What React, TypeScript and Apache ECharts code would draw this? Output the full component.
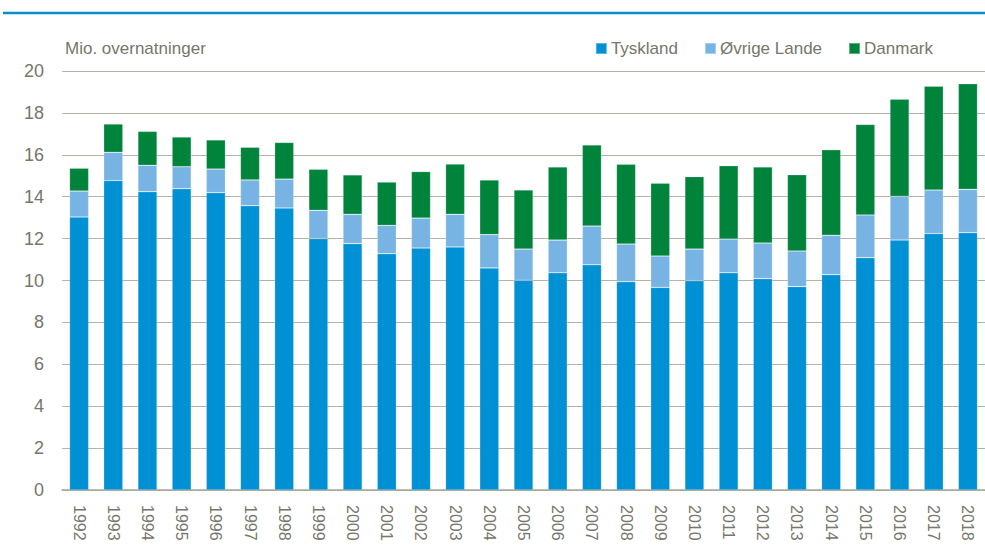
import React, { useEffect, useRef } from "react";
import * as echarts from "echarts";

const years = [
  "1992", "1993", "1994", "1995", "1996", "1997", "1998", "1999", "2000",
  "2001", "2002", "2003", "2004", "2005", "2006", "2007", "2008", "2009",
  "2010", "2011", "2012", "2013", "2014", "2015", "2016", "2017", "2018",
];

const tyskland = [
  13.03, 14.77, 14.24, 14.38, 14.19, 13.57, 13.46, 12.0, 11.76, 11.28, 11.55,
  11.6, 10.6, 10.01, 10.37, 10.75, 9.94, 9.67, 9.99, 10.37, 10.09, 9.71, 10.28,
  11.09, 11.93, 12.24, 12.28,
];

const ovrigeLande = [
  1.24, 1.35, 1.26, 1.05, 1.13, 1.23, 1.38, 1.35, 1.4, 1.35, 1.43, 1.56, 1.59,
  1.49, 1.56, 1.85, 1.8, 1.5, 1.51, 1.61, 1.7, 1.7, 1.88, 2.04, 2.09, 2.08,
  2.07,
];

const danmark = [
  1.09, 1.35, 1.62, 1.42, 1.39, 1.56, 1.75, 1.96, 1.88, 2.07, 2.22, 2.4, 2.61,
  2.82, 3.49, 3.87, 3.81, 3.47, 3.46, 3.5, 3.63, 3.64, 4.08, 4.32, 4.63, 4.95,
  5.04,
];

const seriesNames = ["Tyskland", "Øvrige Lande", "Danmark"];
const seriesColors = ["#0090D4", "#78B4E3", "#00843C"];
const yAxisTitle = "Mio. overnatninger";

const FONT = "'Liberation Sans', Arial, sans-serif";
const TEXT = "#76766A";

export default function App() {
  const ref = useRef<HTMLDivElement>(null);

  useEffect(() => {
    if (!ref.current) return;
    const chart = echarts.init(ref.current, undefined, { renderer: "svg" });
    const data = [tyskland, ovrigeLande, danmark];
    chart.setOption({
      animation: false,
      textStyle: { fontFamily: FONT },
      graphic: [
        {
          type: "line",
          shape: { x1: 3, y1: 13, x2: 985, y2: 13 },
          style: { stroke: "#0A8BCB", lineWidth: 2.5 },
          silent: true,
        },
      ],
      legend: {
        data: seriesNames,
        right: 47,
        top: 35,
        itemWidth: 11,
        itemHeight: 11,
        itemGap: 26,
        icon: "rect",
        textStyle: { color: TEXT, fontSize: 17, fontFamily: FONT, padding: [0, 0, 0, -1] },
      },
      grid: { left: 62, right: -7, top: 71, bottom: 56, containLabel: false },
      xAxis: {
        type: "category",
        data: years,
        axisTick: { show: false },
        axisLine: { lineStyle: { color: "#A6A69A", width: 1.5 } },
        axisLabel: {
          rotate: -90,
          color: TEXT,
          fontSize: 16,
          fontFamily: FONT,
          margin: 15,
          interval: 0,
        },
      },
      yAxis: {
        type: "value",
        min: 0,
        max: 20,
        interval: 2,
        name: yAxisTitle,
        nameLocation: "end",
        nameGap: 14,
        nameTextStyle: {
          color: TEXT,
          fontSize: 17,
          fontFamily: FONT,
          align: "left",
          verticalAlign: "bottom",
          padding: [0, 0, 0, 3],
        },
        axisLine: { show: false },
        axisTick: { show: false },
        axisLabel: { color: TEXT, fontSize: 18, fontFamily: FONT, margin: 18 },
        splitLine: { lineStyle: { color: "#B4B4A8", width: 1.2 } },
      },
      series: seriesNames.map((name, i) => ({
        name,
        type: "bar",
        stack: "total",
        barWidth: "56%",
        data: data[i],
        itemStyle: {
          color: seriesColors[i],
          borderColor: "rgba(255,255,255,0.35)",
          borderWidth: 0.6,
        },
      })),
    });
    return () => chart.dispose();
  }, []);

  return (
    <div
      ref={ref}
      style={{ position: "fixed", left: 0, top: 0, width: 985, height: 546, background: "#fff" }}
    />
  );
}
